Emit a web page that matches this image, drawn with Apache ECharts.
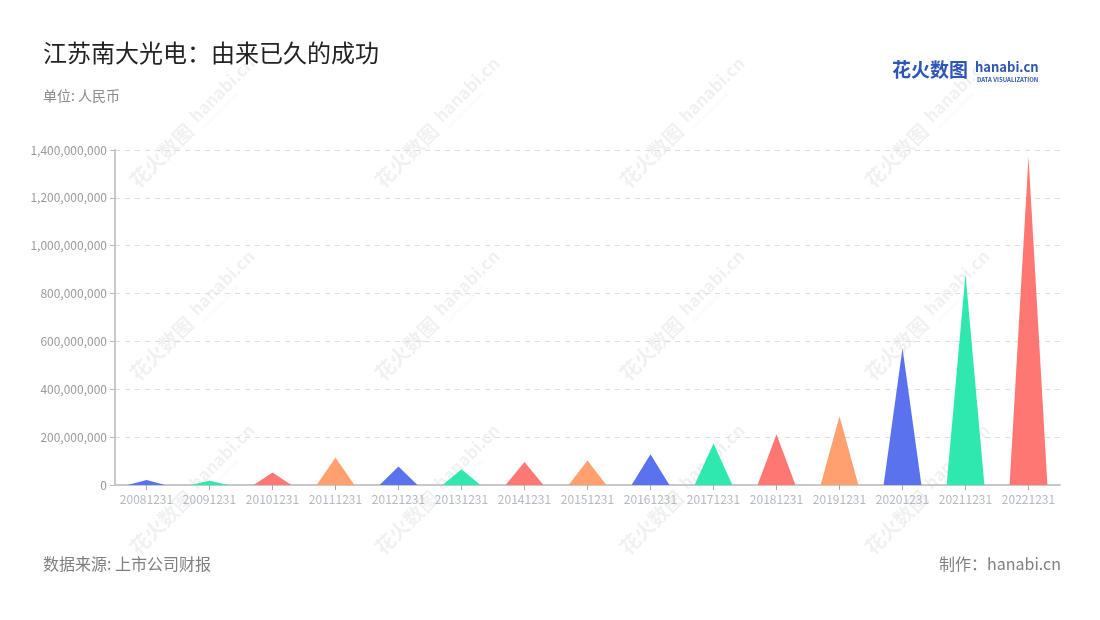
<!DOCTYPE html>
<html>
<head>
<meta charset="utf-8">
<script src="https://cdn.jsdelivr.net/npm/echarts@6/dist/echarts.min.js"></script>
<style>html,body{margin:0;padding:0;background:#fff}#c{width:1100px;height:620px}</style>
</head>
<body>
<div id="c"></div>
<script>
const categories = ['20081231','20091231','20101231','20111231','20121231','20131231','20141231','20151231','20161231','20171231','20181231','20191231','20201231','20211231','20221231'];
const values = [21000000, 18000000, 52000000, 115000000, 77000000, 66000000, 96000000, 102000000, 128000000, 173000000, 212000000, 287000000, 571000000, 882000000, 1372000000];
const palette = ['#5a72ee', '#2ee8b0', '#ff7772', '#ffa06e'];
const yTicks = [0, 200000000, 400000000, 600000000, 800000000, 1000000000, 1200000000, 1400000000];

const chart = echarts.init(document.getElementById('c'));
const font = '"Noto Sans CJK SC", "Noto Sans", sans-serif';

const wm = [];
const wmX = [172, 417, 662, 907];
const wmY = [145, 338, 512];
wmY.forEach((y) => {
  wmX.forEach((x) => {
    wm.push({
      type: 'group', x: x, y: y, rotation: Math.PI / 4, silent: true, z: 0,
      children: [
        { type: 'text', style: { text: '花火数图', x: -55, y: 0, fill: 'rgba(0,0,0,0.06)', font: 'bold 20px ' + font, textVerticalAlign: 'middle' } },
        { type: 'text', style: { text: 'hanabi.cn', x: 33, y: -4, fill: 'rgba(0,0,0,0.06)', font: 'bold 17px ' + font, textVerticalAlign: 'middle' } },
        { type: 'text', style: { text: 'DATA VISUALIZATION', x: 34, y: 10, fill: 'rgba(0,0,0,0.05)', font: '5px ' + font, textVerticalAlign: 'middle' } }
      ]
    });
  });
});

chart.setOption({
  backgroundColor: '#fff',
  title: [
    { text: '江苏南大光电：由来已久的成功', left: 38, top: 36, textStyle: { fontFamily: font, fontSize: 24, fontWeight: 'normal', color: '#222' } },
    { text: '单位: 人民币', left: 38, top: 84, textStyle: { fontFamily: font, fontSize: 14, fontWeight: 'normal', color: '#8a8a8a' } }
  ],
  graphic: wm.concat([
    { type: 'text', left: 43, top: 556, style: { text: '数据来源: 上市公司财报', fill: '#7f7f7f', font: '16px ' + font } },
    { type: 'text', right: 39, top: 556, style: { text: '制作：hanabi.cn', fill: '#7f7f7f', font: '16px ' + font } },
    { type: 'text', left: 892, top: 60, style: { text: '花火数图', fill: '#2d56b6', font: 'bold 19px ' + font } },
    { type: 'text', left: 975, top: 61, style: { text: 'hanabi.cn', fill: '#2d56b6', font: 'bold 13px ' + font } },
    { type: 'text', left: 977, top: 77, style: { text: 'DATA VISUALIZATION', fill: '#2d56b6', font: 'bold 6px ' + font } }
  ]),
  grid: { left: 115, right: 40, top: 150, bottom: 135 },
  xAxis: {
    type: 'category',
    data: categories,
    axisLine: { lineStyle: { color: '#c8c8c8', width: 2 } },
    axisTick: { show: true, alignWithLabel: true, lineStyle: { color: '#aaa' } },
    axisLabel: { interval: 0, color: '#b4b8c4', fontSize: 12, fontFamily: font, margin: 8 }
  },
  yAxis: {
    type: 'value',
    min: 0, max: 1400000000, interval: 200000000,
    axisLine: { show: true, lineStyle: { color: '#c8c8c8', width: 2 } },
    axisTick: { show: true, lineStyle: { color: '#bbb' } },
    axisLabel: { color: '#9a9a9a', fontSize: 12, fontFamily: font, formatter: v => Number(v).toLocaleString('en-US') },
    splitLine: { lineStyle: { color: '#dcdcdc', type: [5, 5] } }
  },
  series: [{
    type: 'pictorialBar',
    symbol: 'triangle',
    symbolSize: ['60%', '100%'],
    barCategoryGap: '0%',
    z: 5,
    data: values.map((v, i) => ({ value: v, itemStyle: { color: palette[i % 4] } }))
  }]
});
</script>
</body>
</html>
